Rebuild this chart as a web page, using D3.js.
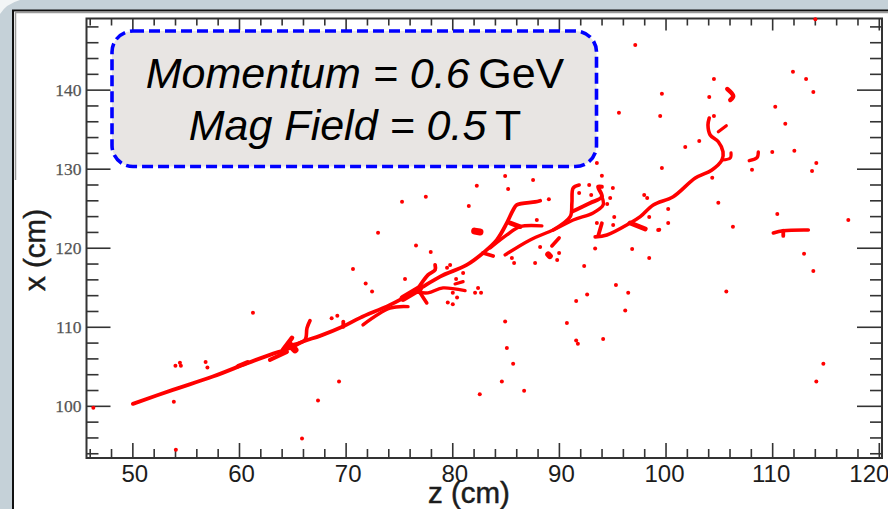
<!DOCTYPE html>
<html>
<head>
<meta charset="utf-8">
<script src="https://cdn.jsdelivr.net/npm/d3@7"></script>
<style>
  html, body { margin: 0; padding: 0; background: #fff; overflow: hidden; }
  svg { display: block; }
</style>
</head>
<body>
<div id="chart-area"></div>
<script>
// tick values, [z, x] in cm for everything below
var zMajor = [50, 60, 70, 80, 90, 100, 110, 120];
var zMinor = [46, 48, 52, 54, 56, 58, 62, 64, 66, 68, 72, 74, 76, 78, 82, 84, 86, 88, 92, 94, 96, 98, 102, 104, 106, 108, 112, 114, 116, 118];
var xMajor = [100, 110, 120, 130, 140];
var xMinor = [94, 96, 98, 102, 104, 106, 108, 112, 114, 116, 118, 122, 124, 126, 128, 132, 134, 136, 138, 142, 144, 146, 148];

var mainTrack = [[50.05,100.25],[53.80,102.02],[57.55,103.70],[60.72,105.37],[62.90,106.45],[64.78,107.33],[66.00,108.13],[67.60,108.85],[69.75,110.03],[71.35,111.13],[74.16,112.77],[76.67,114.58],[78.86,116.35],[81.36,117.83],[82.89,119.34],[84.18,120.99],[85.12,123.14],[85.71,124.78],[86.05,125.41],[87.77,125.79],[88.24,125.95]];
var forkLow = [[83.55,119.97],[85.12,121.62],[86.36,122.67],[88.40,122.76]];
var forkLink = [[85.43,123.14],[86.36,122.67]];
var secondTrack = [[84.96,119.09],[87.30,120.99],[89.46,122.25],[91.34,123.51],[93.21,124.40],[94.15,125.41],[94.03,126.46]];
var secondUp = [[89.46,122.25],[91.06,123.93],[91.22,125.66],[91.34,127.56],[91.90,127.94]];
var secondSide = [[91.22,124.56],[92.93,125.66],[94.03,126.46],[93.68,127.72],[94.03,127.72]];
var thirdTrack = [[93.40,121.37],[94.50,121.62],[96.69,123.14],[97.63,123.93],[98.85,125.41],[100.72,126.46],[102.79,128.82],[104.35,129.84],[105.29,131.10],[105.39,132.15],[104.95,133.41],[104.19,134.26],[103.98,135.52],[104.10,136.41]];
var thirdSide = [[96.69,123.14],[98.10,122.38]];
var thirdLow = [[94.03,123.10],[93.71,121.62]];
var hookTail = [[105.29,131.10],[106.07,131.35],[106.14,131.99]];
var hookShort = [[104.95,134.68],[105.70,135.44]];
var topBlob = [[105.79,140.08],[106.35,139.19],[106.07,138.69]];
var flatTrack = [[110.11,121.87],[111.04,122.16],[113.39,122.25]];
var flatDrop = [[111.04,122.16],[111.04,121.50]];
var shortTrack = [[107.85,131.01],[108.58,131.39],[108.70,132.11]];
var midShort = [[89.34,120.23],[90.02,121.24]];
var hubUp = [[76.67,114.58],[77.73,116.56],[78.39,117.19],[78.39,117.83]];
var hubLowLine = [[71.63,110.24],[74.16,112.35],[75.85,112.55]];
var hubDown = [[76.98,114.29],[77.61,113.02]];
var hubSide = [[76.67,114.40],[77.73,114.29],[79.14,114.92],[81.20,114.58]];
var hubDash = [[80.26,115.42],[81.02,115.71]];
var hubCore = [[75.40,113.60],[76.90,114.80]];
var nearFork = [[82.89,119.34],[83.83,118.96]];
var sideBlob = [[82.10,122.10],[82.60,122.00]];
var spurA = [[65.06,107.71],[66.19,108.34],[66.38,109.86],[66.66,110.78]];
var spurLow = [[62.90,105.82],[64.50,106.83]];
var spurCore = [[64.12,107.08],[64.97,108.60]];
var spurCore2 = [[64.78,107.71],[65.25,107.08]];
var smallBlob = [[69.78,110.66],[69.78,110.00]];
var smallLump = [[59.90,105.00],[60.80,105.50]];
var lump89 = [[89.00,119.15],[89.15,118.95]];

var strayHits = [[46.34,99.75],[53.89,100.51],[54.08,94.44],[54.04,105.06],[54.46,105.44],[54.55,105.06],[56.87,105.56],[57.04,104.84],[61.31,111.76],[69.38,103.07],[67.41,100.67],[65.91,95.87],[70.69,117.32],[71.88,115.46],[72.48,114.45],[73.04,121.91],[75.29,125.83],[77.52,126.46],[76.60,120.27],[77.98,119.47],[75.57,116.06],[79.80,117.83],[79.51,117.48],[81.02,116.81],[80.36,116.06],[82.42,114.92],[82.14,114.29],[82.70,114.29],[80.45,113.69],[80.05,114.29],[79.58,113.06],[80.05,112.86],[81.55,125.28],[82.30,127.85],[84.96,129.08],[85.24,127.43],[87.58,128.57],[93.56,130.72],[94.03,129.12],[89.06,126.13],[92.84,127.94],[95.06,127.56],[91.90,126.93],[94.81,126.30],[93.03,126.67],[94.53,125.54],[98.00,126.67],[98.28,126.30],[95.19,123.89],[93.56,123.14],[95.09,122.88],[87.93,123.51],[98.47,123.89],[99.31,122.25],[88.24,120.10],[93.40,119.89],[96.87,119.85],[85.59,118.71],[85.80,118.08],[87.77,118.08],[90.02,119.34],[89.84,118.46],[92.37,117.70],[98.47,118.71],[97.16,145.64],[95.63,137.08],[114.05,148.89],[111.95,142.26],[113.18,141.34],[113.86,139.70],[104.54,141.34],[99.66,139.48],[104.10,139.06],[110.29,137.84],[99.50,136.66],[104.54,136.66],[111.23,135.69],[103.16,133.50],[101.85,132.74],[110.01,132.11],[112.08,132.28],[114.14,130.72],[113.74,129.71],[108.11,129.87],[99.66,130.09],[104.38,128.86],[104.95,125.70],[100.25,124.91],[110.48,124.27],[117.14,123.51],[100.25,123.14],[106.32,122.67],[99.41,122.29],[95.35,115.30],[96.50,114.29],[92.65,114.07],[91.62,113.27],[96.22,112.05],[84.96,110.66],[90.75,110.49],[91.62,108.26],[91.78,107.84],[94.15,108.47],[85.12,107.33],[85.71,105.31],[84.65,103.07],[86.74,101.90],[82.58,101.48],[112.99,119.25],[113.86,117.07],[105.70,114.45],[114.80,105.31],[114.14,103.07],[68.69,111.09],[69.22,111.38]];

var svg = d3.select("#chart-area")
    .append("svg")
    .attr("width", 888)
    .attr("height", 509);

// slide background and frame
svg.append("rect").attr("width", 888).attr("height", 509).attr("fill", "#c5d1d8");
svg.append("path").attr("d", "M0,0H20Q6,4 0,14Z").attr("fill", "#f2f5f6");
svg.append("rect").attr("x", 13).attr("y", 10).attr("width", 875).attr("height", 499)
    .attr("fill", "#fff");
svg.append("path").attr("d", "M13,509V10.5H888").attr("fill", "none")
    .attr("stroke", "#111").attr("stroke-width", 2);
svg.append("path").attr("d", "M15.5,180V12.5H888").attr("fill", "none")
    .attr("stroke", "#9a9a9a").attr("stroke-width", 1.5);

var left = 86.5, right = 882, top_ = 18.5, bottom = 458;

var x = d3.scaleLinear().domain([45.7, 120.3]).range([left, right]);
var y = d3.scaleLinear().domain([93.4, 149]).range([bottom, top_]);

var axisColor = "#333";

function tickAxis(gen, tx, ty, size, values) {
    var g = svg.append("g")
        .attr("transform", `translate(${tx}, ${ty})`)
        .call(gen.tickValues(values).tickSize(size).tickFormat(""));
    g.selectAll(".domain").remove();
    g.selectAll("line").attr("stroke", axisColor).attr("stroke-width", 1.6);
    return g;
}

// ticks point inward on all four sides
tickAxis(d3.axisTop(x), 0, bottom, 15, zMajor);
tickAxis(d3.axisTop(x), 0, bottom, 9, zMinor);
tickAxis(d3.axisBottom(x), 0, top_, 12, zMajor);
tickAxis(d3.axisBottom(x), 0, top_, 7, zMinor);
tickAxis(d3.axisRight(y), left, 0, 24, xMajor);
tickAxis(d3.axisRight(y), left, 0, 12, xMinor);
tickAxis(d3.axisLeft(y), right, 0, 25, xMajor);
tickAxis(d3.axisLeft(y), right, 0, 12, xMinor);

svg.append("rect")
    .attr("x", left).attr("y", top_)
    .attr("width", right - left).attr("height", bottom - top_)
    .attr("fill", "none").attr("stroke", axisColor).attr("stroke-width", 2);

// tick labels
var zLabels = svg.append("g")
    .attr("transform", `translate(0, ${bottom})`)
    .call(d3.axisBottom(x).tickValues(zMajor).tickSize(0).tickPadding(7));
zLabels.select(".domain").remove();
zLabels.selectAll("text")
    .attr("font-family", "'Liberation Sans', Arial, sans-serif")
    .attr("font-size", 24)
    .attr("fill", "#1c1c1c")
    .attr("dx", d => d == 120 ? -10 : d >= 100 ? -1.5 : 2);

var xLabels = svg.append("g")
    .attr("transform", `translate(${left}, 0)`)
    .call(d3.axisLeft(y).tickValues(xMajor).tickSize(0).tickPadding(5));
xLabels.select(".domain").remove();
xLabels.selectAll("text")
    .attr("font-family", "'Liberation Serif', 'Times New Roman', serif")
    .attr("font-size", 17.5)
    .attr("stroke", "#555")
    .attr("stroke-width", 0.25)
    .attr("fill", "#555");

// axis titles
svg.append("text")
    .attr("x", 469)
    .attr("y", 503)
    .attr("text-anchor", "middle")
    .attr("font-family", "'Liberation Sans', Arial, sans-serif")
    .attr("font-size", 29.5)
    .attr("stroke", "#1c1c1c")
    .attr("stroke-width", 0.5)
    .attr("fill", "#1c1c1c")
    .text("z (cm)");

svg.append("text")
    .attr("transform", "translate(45, 250) rotate(-90)")
    .attr("text-anchor", "middle")
    .attr("font-family", "'Liberation Sans', Arial, sans-serif")
    .attr("font-size", 29.5)
    .attr("stroke", "#1c1c1c")
    .attr("stroke-width", 0.5)
    .attr("fill", "#1c1c1c")
    .text("x (cm)");

// hits
var line = d3.line().x(d => x(d[0])).y(d => y(d[1])).curve(d3.curveCatmullRom.alpha(0.5));

var tracks = [
    [mainTrack, 3.8], [forkLow, 3.4], [forkLink, 4.8], [secondTrack, 3.4], [secondUp, 3.6], [secondSide, 4],
    [thirdTrack, 3.6], [thirdSide, 4.8], [thirdLow, 3.8], [hookTail, 3.2], [hookShort, 3.2],
    [topBlob, 4.4], [flatTrack, 3.6], [flatDrop, 3.8], [shortTrack, 3.4], [midShort, 3.6],
    [hubUp, 3.8], [hubLowLine, 3.4], [hubDown, 3.6], [hubSide, 3.4], [hubDash, 3.2], [hubCore, 7],
    [nearFork, 3.8], [sideBlob, 7], [spurA, 3.6], [spurLow, 4], [spurCore, 4.6], [spurCore2, 7],
    [smallBlob, 3.8], [smallLump, 4.4], [lump89, 6]
];

svg.append("g").selectAll("path")
    .data(tracks)
    .enter()
    .append("path")
    .attr("d", d => line(d[0]))
    .attr("fill", "none")
    .attr("stroke", "#ff0000")
    .attr("stroke-width", d => d[1])
    .attr("stroke-linecap", "round")
    .attr("stroke-linejoin", "round");

svg.append("g").selectAll("circle")
    .data(strayHits)
    .enter()
    .append("circle")
    .attr("cx", d => x(d[0]))
    .attr("cy", d => y(d[1]))
    .attr("r", 2)
    .attr("fill", "#ff0000");

// info box
svg.append("rect")
    .attr("x", 112).attr("y", 31)
    .attr("width", 484.5).attr("height", 135.5)
    .attr("rx", 21)
    .attr("fill", "#e8e5e3")
    .attr("stroke", "#0000ff")
    .attr("stroke-width", 3.6)
    .attr("stroke-dasharray", "11 5");

var info = svg.append("text")
    .attr("text-anchor", "middle")
    .attr("font-family", "'Liberation Sans', Arial, sans-serif")
    .attr("font-size", 43)
    .attr("fill", "#000");

var l1 = info.append("tspan").attr("x", 355).attr("y", 88);
l1.append("tspan").attr("font-style", "italic").text("Momentum = 0.6");
l1.append("tspan").text("\u2009GeV");
var l2 = info.append("tspan").attr("x", 355).attr("y", 140);
l2.append("tspan").attr("font-style", "italic").text("Mag Field = 0.5");
l2.append("tspan").text("\u2009T");
</script>
</body>
</html>
